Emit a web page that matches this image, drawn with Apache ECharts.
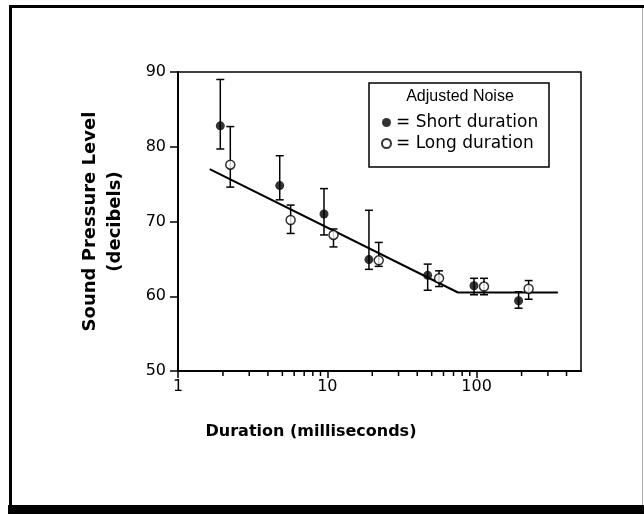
<!DOCTYPE html>
<html><head><meta charset="utf-8">
<script src="https://cdn.jsdelivr.net/npm/echarts@6/dist/echarts.min.js"></script>
<style>html,body{margin:0;padding:0;background:#fff}#c{width:644px;height:514px}</style>
</head><body><div id="c"></div>
<script>
// ---- data ----
const yTicks = [50, 60, 70, 80, 90];
const xTickLabels = [1, 10, 100];
const minorTickValues = [2,3,4,5,6,7,8,9,20,30,40,50,60,70,80,90,200,300,400];
const shortX  = [1.92, 4.8, 9.5, 19, 47, 96, 191];
const shortY  = [82.8, 74.8, 71.0, 64.9, 62.8, 61.4, 59.4];
const shortLo = [79.7, 72.9, 68.2, 63.6, 60.8, 60.2, 58.4];
const shortHi = [89.0, 78.8, 74.4, 71.5, 64.3, 62.4, 60.6];
const longX  = [2.24, 5.68, 11.0, 22.1, 56, 112, 223];
const longY  = [77.6, 70.2, 68.2, 64.8, 62.4, 61.3, 61.0];
const longLo = [74.6, 68.4, 66.6, 64.0, 61.3, 60.2, 59.6];
const longHi = [82.7, 72.2, 69.0, 67.2, 63.4, 62.4, 62.1];
const fitX = [1.63, 75, 350];
const fitY = [77.0, 60.5, 60.5];
const legendTitle = 'Adjusted Noise';
const shortName = 'Short duration';
const longName = 'Long duration';

// ---- chart ----
const chart = echarts.init(document.getElementById('c'), null, {renderer: 'canvas'});
const zip = (a, b) => a.map((v, i) => [v, b[i]]);
const zip3 = (a, b, c) => a.map((v, i) => [v, b[i], c[i]]);

function errRender(params, api) {
  const x = api.value(0);
  const lo = api.coord([x, api.value(1)]);
  const hi = api.coord([x, api.value(2)]);
  const w = 4;
  const st = {stroke: '#000', lineWidth: 1.5};
  return {type: 'group', children: [
    {type: 'line', shape: {x1: lo[0], y1: lo[1], x2: hi[0], y2: hi[1]}, style: st},
    {type: 'line', shape: {x1: lo[0]-w, y1: lo[1], x2: lo[0]+w, y2: lo[1]}, style: st},
    {type: 'line', shape: {x1: hi[0]-w, y1: hi[1], x2: hi[0]+w, y2: hi[1]}, style: st}
  ]};
}

const option = {
  animation: false,
  backgroundColor: '#fff',
  textStyle: {fontFamily: 'Liberation Sans', color: '#000'},
  grid: {left: 178, top: 72, right: 63, bottom: 143, show: true, borderColor: '#000', borderWidth: 1.5, backgroundColor: 'transparent'},
  xAxis: {
    type: 'log', logBase: 10, min: 1, max: 500,
    axisLine: {show: true, lineStyle: {color: '#000', width: 2}},
    axisTick: {show: true, inside: false, length: 7, lineStyle: {color: '#000', width: 1.5}},
    axisLabel: {show: true, color: '#000', fontSize: 16, fontFamily: 'DejaVu Sans', margin: 8, showMaxLabel: false,
      formatter: v => xTickLabels.includes(v) ? String(v) : ''},
    splitLine: {show: false}
  },
  yAxis: {
    type: 'value', min: yTicks[0], max: yTicks[yTicks.length-1], interval: 10,
    name: 'Sound Pressure Level\n(decibels)', nameLocation: 'middle', nameRotate: 90, nameGap: 50,
    nameTextStyle: {fontFamily: 'DejaVu Sans', fontWeight: 'bold', fontSize: 18, lineHeight: 25, color: '#000'},
    axisLine: {show: true, lineStyle: {color: '#000', width: 2}},
    axisTick: {show: true, inside: false, length: 8, lineStyle: {color: '#000', width: 1.5}},
    axisLabel: {color: '#000', fontSize: 16, fontFamily: 'DejaVu Sans', margin: 12},
    splitLine: {show: false}
  },
  legend: {
    orient: 'vertical', left: 376, top: 109, itemWidth: 9, itemHeight: 9, itemGap: 4,
    data: [shortName, longName],
    formatter: n => '= ' + n,
    textStyle: {fontFamily: 'DejaVu Sans', fontSize: 17, color: '#000'}
  },
  graphic: [
    {type: 'rect', shape: {x: 9, y: 5, width: 640, height: 3}, style: {fill: '#000'}},
    {type: 'rect', shape: {x: 9, y: 5, width: 3, height: 502}, style: {fill: '#000'}},
    {type: 'line', shape: {x1: 642.5, y1: 8, x2: 642.5, y2: 505}, style: {stroke: '#aaa', lineWidth: 1}},
    {type: 'rect', shape: {x: 8, y: 505, width: 640, height: 9}, style: {fill: '#000'}},
    {type: 'rect', shape: {x: 369, y: 83, width: 180, height: 84}, style: {fill: 'none', stroke: '#000', lineWidth: 1.5}},
    {type: 'text', x: 460, y: 97, style: {text: legendTitle, fontFamily: 'Liberation Sans', fontSize: 16, fill: '#000', textAlign: 'center', textVerticalAlign: 'middle'}},
    {type: 'text', x: 311, y: 432, style: {text: 'Duration (milliseconds)', fontFamily: 'DejaVu Sans', fontWeight: 'bold', fontSize: 16, fill: '#000', textAlign: 'center', textVerticalAlign: 'middle'}}
  ],
  series: [
    {type: 'custom', name: 'minorTicks', silent: true, clip: false,
      data: minorTickValues.map(v => [v, yTicks[0]]), encode: {x: 0, y: 1},
      renderItem: (params, api) => {
        const p = api.coord([api.value(0), api.value(1)]);
        return {type: 'line', shape: {x1: p[0], y1: p[1], x2: p[0], y2: p[1] + 5}, style: {stroke: '#000', lineWidth: 1.5}};
      }},
    {type: 'line', name: 'fit', data: zip(fitX, fitY), symbol: 'none', lineStyle: {color: '#000', width: 2}, silent: true, z: 2},
    {type: 'custom', name: 'shortErr', data: zip3(shortX, shortLo, shortHi), renderItem: errRender, encode: {x: 0, y: [1, 2]}, z: 3},
    {type: 'custom', name: 'longErr', data: zip3(longX, longLo, longHi), renderItem: errRender, encode: {x: 0, y: [1, 2]}, z: 3},
    {type: 'scatter', name: shortName, data: zip(shortX, shortY), symbol: 'circle', symbolSize: 9,
      itemStyle: {color: '#000'}, z: 5},
    {type: 'scatter', name: longName, data: zip(longX, longY), symbol: 'circle', symbolSize: 9,
      itemStyle: {color: '#fff', borderColor: '#000', borderWidth: 1.5}, z: 5}
  ]
};
chart.setOption(option);
</script>
</body></html>
